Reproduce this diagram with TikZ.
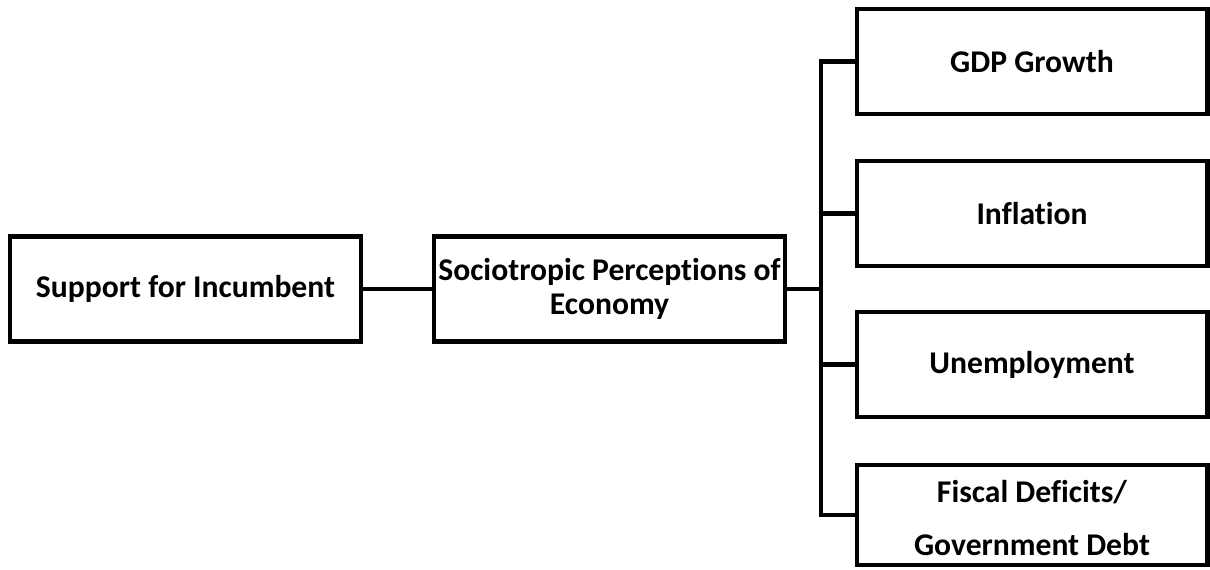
\documentclass[tikz,border=0pt]{standalone}
\usepackage{fontspec}
\setmainfont{Carlito}[Ligatures=NoCommon]
\usetikzlibrary{positioning}

\tikzset{
    factor/.style={draw, line width=2.3pt, minimum width=7.02cm, minimum height=2.1cm,
        inner sep=0pt, align=center, font=\fontsize{18}{19}\selectfont\bfseries},
    link/.style={line width=2.3pt}
}

\begin{document}
\begin{tikzpicture}[x=0.02cm, y=-0.02cm]
    \useasboundingbox (0,0) rectangle (1210,569);

    \node[factor] (support) at (185.5,289) {Support for Incumbent};
    \node[factor] (socio) at (609.5,289) {Sociotropic Perceptions of\\Economy};

    \node[factor] (gdp) at (1032,61.5) {GDP Growth};
    \node[factor] (infl) at (1032,213.5) {Inflation};
    \node[factor] (unemp) at (1032,364.5) {Unemployment};
    \node[factor, minimum height=2cm] (debt) at (1032,515)
        {\rule{0pt}{16pt}Fiscal Deficits/\\[11pt]Government Debt};

    \coordinate (bus) at (821,289);

    \draw[link] (support) -- (socio);
    \draw[link] (socio) -- (bus);
    \draw[link] (gdp.west) -| (bus) |- (debt.west);
    \draw[link] (infl.west) -- (infl.west -| bus);
    \draw[link] (unemp.west) -- (unemp.west -| bus);
\end{tikzpicture}
\end{document}
